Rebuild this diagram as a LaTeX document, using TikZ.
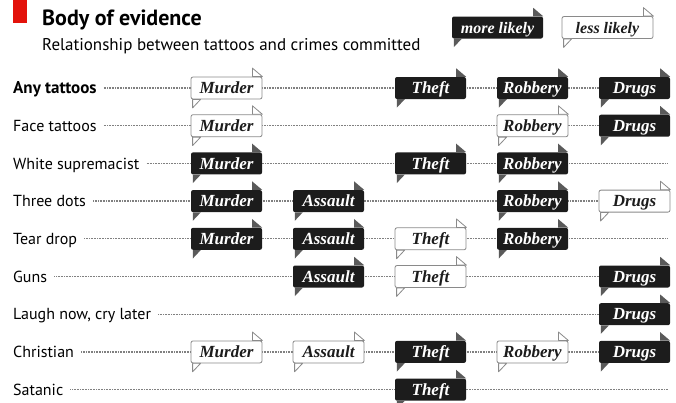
\documentclass[tikz,border=0pt]{standalone}
\usepackage{fontspec}
\setmainfont{PT Sans}
\newfontfamily\boxfont{Liberation Serif}
\definecolor{boxblack}{HTML}{1C1C1C}
\definecolor{tabgrey}{HTML}{5A5A5A}
\definecolor{outl}{HTML}{8A8A8A}
\definecolor{dotgrey}{HTML}{808080}
\definecolor{ecored}{HTML}{E3120B}
\tikzset{
  rowlab/.style={anchor=west, inner sep=0pt, font=\fontsize{16}{19}\selectfont, text height=11.2pt, text depth=0pt},
  dotline/.style={draw=dotgrey, line width=1.3pt, dash pattern=on 1pt off 0.6pt},
  boxfontstyle/.style={font=\boxfont\bfseries\itshape\fontsize{17}{20}\selectfont},
  hi/.style={fill=boxblack, text=white, rounded corners=2pt, minimum width=71pt, minimum height=22pt, inner sep=0pt,
    boxfontstyle, text height=12.6pt, text depth=1.4pt},
  lo/.style={fill=white, draw=outl, line width=0.8pt, text=boxblack, rounded corners=2pt, minimum width=71pt, minimum height=22pt, inner sep=0pt,
    boxfontstyle, text height=12.6pt, text depth=1.4pt},
  tabhi/.style={fill=tabgrey},
  tablo/.style={fill=white, draw=outl, line width=0.8pt, line join=round},
}
\newcommand\hibox[5][71pt]{%
  \node[hi, minimum width=#1] (#2) at (#3,#4) {#5};
  \fill[tabhi] ([xshift=-10pt]#2.north east) -- ++(0,8.5) -- (#2.north east) -- cycle;
  \fill[tabhi] ([xshift=2pt]#2.south west) -- ++(0,-8.5) -- ([xshift=10pt]#2.south west) -- cycle;
}
\newcommand\lobox[5][71pt]{%
  \node[lo, minimum width=#1] (#2) at (#3,#4) {#5};
  \filldraw[tablo] ([xshift=-10pt]#2.north east) -- ++(0,8.5) -- (#2.north east) -- cycle;
  \filldraw[tablo] ([xshift=2pt]#2.south west) -- ++(0,-8.5) -- ([xshift=10pt]#2.south west) -- cycle;
}
\begin{document}
\begin{tikzpicture}[x=1pt,y=1pt]
\useasboundingbox (0,0) rectangle (676,-402);
% heading
\node[fill=ecored, minimum width=14pt, minimum height=23pt, inner sep=0pt, anchor=north west] (bar) at (13,0) {};
\node[anchor=base west, inner sep=0pt, font=\bfseries\fontsize{22}{25}\selectfont] (title) at (42,-25) {Body of evidence};
\node[anchor=base west, inner sep=0pt, font=\fontsize{17}{20}\selectfont] (sub) at (42,-50) {Relationship between tattoos and crimes committed};
% legend
\node[hi, minimum width=91pt, font=\boxfont\bfseries\itshape\fontsize{16}{19}\selectfont] (leghi) at (497.5,-27.5) {more likely};
\fill[tabhi] ([xshift=-10pt]leghi.north east) -- ++(0,8.5) -- (leghi.north east) -- cycle;
\fill[tabhi] ([xshift=2pt]leghi.south west) -- ++(0,-8.5) -- ([xshift=10pt]leghi.south west) -- cycle;
\node[lo, minimum width=91pt, font=\boxfont\bfseries\itshape\fontsize{16}{19}\selectfont] (leglo) at (607.5,-27.5) {less likely};
\filldraw[tablo] ([xshift=-10pt]leglo.north east) -- ++(0,8.5) -- (leglo.north east) -- cycle;
\filldraw[tablo] ([xshift=2pt]leglo.south west) -- ++(0,-8.5) -- ([xshift=10pt]leglo.south west) -- cycle;
% rows
\def\ya{-88}\def\yb{-125.7}\def\yc{-163.4}\def\yd{-201.1}\def\ye{-238.8}\def\yf{-276.5}\def\yg{-314.2}\def\yh{-351.9}\def\yi{-389.6}
\node[rowlab, font=\bfseries\fontsize{17}{20}\selectfont, text height=11.9pt] (r1) at (13,\ya) {Any tattoos};
\node[rowlab] (r2) at (13,\yb) {Face tattoos};
\node[rowlab] (r3) at (13,\yc) {White supremacist};
\node[rowlab] (r4) at (13,\yd) {Three dots};
\node[rowlab] (r5) at (13,\ye) {Tear drop};
\node[rowlab] (r6) at (13,\yf) {Guns};
\node[rowlab] (r7) at (13,\yg) {Laugh now, cry later};
\node[rowlab] (r8) at (13,\yh) {Christian};
\node[rowlab] (r9) at (13,\yi) {Satanic};
\foreach \n/\y in {1/\ya,2/\yb,3/\yc,4/\yd,5/\ye,6/\yf,7/\yg,8/\yh,9/\yi}{
  \coordinate (e\n) at (668,\y);
  \draw[dotline] ([xshift=7pt]r\n.east) -- (e\n);
}
\def\xm{226.5}\def\xa{328.5}\def\xt{430.5}\def\xr{532.5}\def\xd{634.5}
% row 1
\lobox{m1}{\xm}{\ya}{Murder}
\hibox{t1}{\xt}{\ya}{Theft}
\hibox{ro1}{\xr}{\ya}{Robbery}
\hibox{d1}{\xd}{\ya}{Drugs}
% row 2
\lobox{m2}{\xm}{\yb}{Murder}
\lobox{ro2}{\xr}{\yb}{Robbery}
\hibox{d2}{\xd}{\yb}{Drugs}
% row 3
\hibox{m3}{\xm}{\yc}{Murder}
\hibox{t3}{\xt}{\yc}{Theft}
\hibox{ro3}{\xr}{\yc}{Robbery}
% row 4
\hibox{m4}{\xm}{\yd}{Murder}
\hibox{a4}{\xa}{\yd}{Assault}
\hibox{ro4}{\xr}{\yd}{Robbery}
\lobox{d4}{\xd}{\yd}{Drugs}
% row 5
\hibox{m5}{\xm}{\ye}{Murder}
\hibox{a5}{\xa}{\ye}{Assault}
\lobox{t5}{\xt}{\ye}{Theft}
\hibox{ro5}{\xr}{\ye}{Robbery}
% row 6
\hibox{a6}{\xa}{\yf}{Assault}
\lobox{t6}{\xt}{\yf}{Theft}
\hibox{d6}{\xd}{\yf}{Drugs}
% row 7
\hibox{d7}{\xd}{\yg}{Drugs}
% row 8
\lobox{m8}{\xm}{\yh}{Murder}
\lobox{a8}{\xa}{\yh}{Assault}
\hibox{t8}{\xt}{\yh}{Theft}
\lobox{ro8}{\xr}{\yh}{Robbery}
\hibox{d8}{\xd}{\yh}{Drugs}
% row 9
\hibox{t9}{\xt}{\yi}{Theft}
\end{tikzpicture}
\end{document}
